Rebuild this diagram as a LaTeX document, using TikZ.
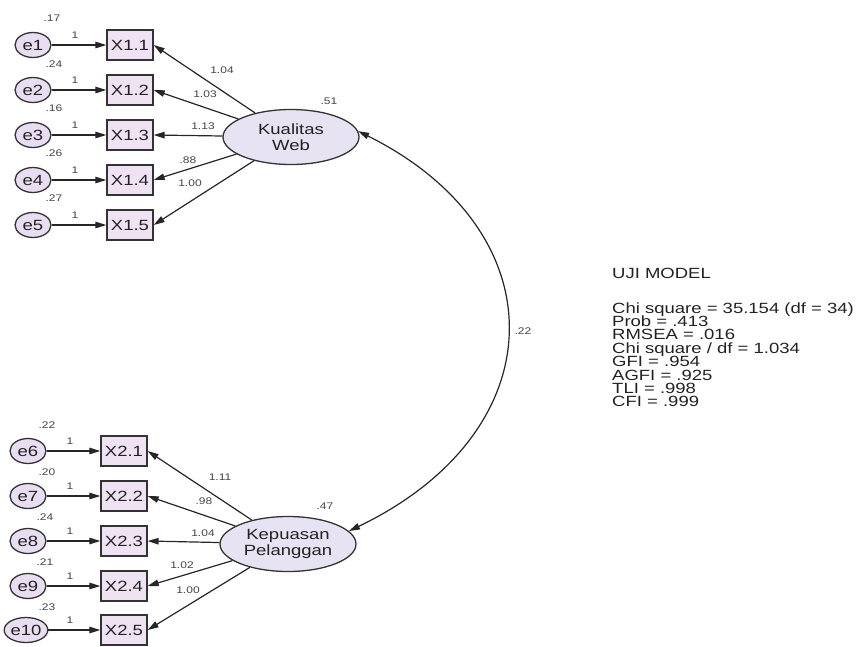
\documentclass[tikz,border=0pt]{standalone}
\usepackage{fontspec}
\setmainfont{Liberation Sans}[FakeStretch=1.25]
\usetikzlibrary{arrows.meta,shapes.geometric}
\definecolor{boxfill}{HTML}{EFE3F3}
\definecolor{errfill}{HTML}{E9DDF1}
\definecolor{latfill}{HTML}{E7E3F3}
\definecolor{edgec}{HTML}{333333}
\definecolor{txt}{HTML}{222222}
\definecolor{lbl}{HTML}{444444}
\begin{document}
\begin{tikzpicture}[x=1pt,y=-1pt,
  big/.style={font=\fontsize{14.8}{16}\selectfont, text=txt},
  obs/.style={big, draw=edgec, line width=1.3pt, fill=boxfill, minimum width=46pt, minimum height=30pt, inner sep=0pt},
  err/.style={big, ellipse, draw=edgec, line width=1.3pt, fill=errfill, minimum width=36pt, minimum height=25pt, inner sep=0pt},
  lat/.style={big, ellipse, draw=edgec, line width=1.3pt, fill=latfill, minimum width=136pt, minimum height=55pt, inner sep=0pt, align=center},
  arr/.style={draw=black!85, line width=1.2pt, -{Triangle[length=11pt,width=6.5pt]}},
  dbl/.style={draw=black!85, line width=1.2pt, {Triangle[length=11pt,width=6.5pt]}-{Triangle[length=11pt,width=6.5pt]}},
  sm/.style={font=\fontsize{9.6}{10}\selectfont, text=lbl, inner sep=0pt},
  info/.style={big, anchor=base west, inner sep=0pt},
]
\useasboundingbox (0,0) rectangle (859,646);

% latent variables
\node[lat] (kw) at (291,137) {Kualitas\\Web};
\node[lat] (kp) at (288,544) {Kepuasan\\Pelanggan};

% top block
\foreach \i/\y in {1/45,2/90,3/135,4/180,5/225}{
  \node[obs] (x1\i) at (130,\y) {X1.\i};
  \node[err] (e\i) at (33,\y) {e\i};
  \draw[arr] (e\i) -- (x1\i);
  \node[sm] (one\i) at (75,\y-10) {1};
  \draw[arr] (kw) -- (x1\i.east);
}
% bottom block
\foreach \i/\j/\y/\ex in {1/6/451/28,2/7/496/28,3/8/541/28,4/9/586/28,5/10/630/26}{
  \node[obs] (x2\i) at (124,\y) {X2.\i};
  \node[err] (e\j) at (\ex,\y) {e\j};
  \draw[arr] (e\j) -- (x2\i);
  \node[sm] (one\j) at (70,\y-10) {1};
  \draw[arr] (kp) -- (x2\i.east);
}

% variances
\foreach \n/\x/\y/\t in {v1/52/18/.17, v2/54/64/.24, v3/54/108/.16, v4/54/153/.26, v5/54/198/.27,
  v6/47/425/.22, v7/47/472/.20, v8/45/517/.24, v9/45/562/.21, v10/47/607/.23,
  vkw/329/101/.51, vkp/325/506/.47}{
  \node[sm] (\n) at (\x,\y) {\t};
}
% loadings
\foreach \n/\x/\y/\t in {l1/222/70/1.04, l2/205/94/1.03, l3/203/126/1.13, l4/188/160/.88, l5/190/183/1.00,
  l6/220/477/1.11, l7/204/501/.98, l8/203/533/1.04, l9/182/565/1.02, l10/188/590/1.00}{
  \node[sm] (\n) at (\x,\y) {\t};
}

% covariance
\draw[dbl] (kw.5) .. controls +(201,100) and +(208,-100) .. node[sm, pos=0.5, right=7pt] (cov) {.22} (kp.12);

% model fit
\node[info] (m0) at (612,278) {UJI MODEL};
\node[info] (m1) at (612,313.0) {Chi square = 35.154 (df = 34)};
\node[info] (m2) at (612,326.4) {Prob = .413};
\node[info] (m3) at (612,339.8) {RMSEA = .016};
\node[info] (m4) at (612,353.2) {Chi square / df = 1.034};
\node[info] (m5) at (612,366.6) {GFI = .954};
\node[info] (m6) at (612,380.0) {AGFI = .925};
\node[info] (m7) at (612,393.4) {TLI = .998};
\node[info] (m8) at (612,406.8) {CFI = .999};
\end{tikzpicture}
\end{document}
